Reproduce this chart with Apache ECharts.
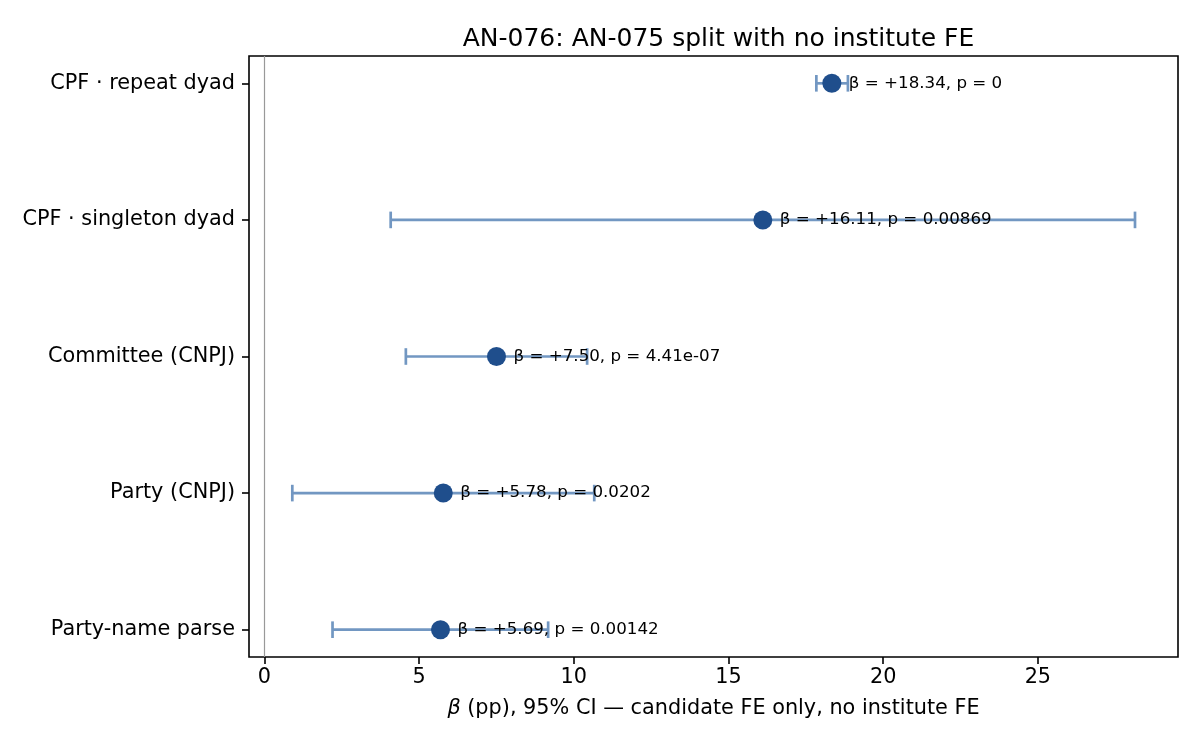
<!DOCTYPE html>
<html>
<head>
<meta charset="utf-8">
<script src="https://cdn.jsdelivr.net/npm/echarts@6/dist/echarts.min.js"></script>
<style>
  html, body { margin: 0; padding: 0; background: #fff; }
  #chart { width: 1200px; height: 750px; }
</style>
</head>
<body>
<div id="chart"></div>
<script>
// rows from top to bottom
const categories = [
  "CPF · repeat dyad",
  "CPF · singleton dyad",
  "Committee (CNPJ)",
  "Party (CNPJ)",
  "Party-name parse"
];
const betas = [18.34, 16.11, 7.50, 5.78, 5.69];
const ciLow = [17.84, 4.08, 4.57, 0.90, 2.20];
const ciHigh = [18.86, 28.14, 10.43, 10.66, 9.17];
const pLabels = ["0", "0.00869", "4.41e-07", "0.0202", "0.00142"];
const xTicks = [0, 5, 10, 15, 20, 25];

const FONT = "DejaVu Sans";
const chart = echarts.init(document.getElementById("chart"), null, { renderer: "canvas" });

const pointData = betas.map((b, i) => [b, i]);
const ciData = categories.map((c, i) => [ciLow[i], ciHigh[i], i]);

const option = {
  animation: false,
  backgroundColor: "#fff",
  title: {
    text: "AN-076: AN-075 split with no institute FE",
    left: 713.5,
    top: 22,
    textAlign: "center",
    textStyle: { fontFamily: FONT, fontSize: 25, fontWeight: "normal", color: "#000" }
  },
  grid: {
    left: 249, right: 22, top: 56, bottom: 93,
    show: true, borderColor: "#000", borderWidth: 1.6, backgroundColor: "transparent"
  },
  xAxis: {
    type: "value",
    min: -0.5,
    max: 29.53,
    splitLine: { show: false },
    axisLine: { show: false, onZero: false },
    axisTick: { show: true, length: 7, customValues: xTicks, lineStyle: { color: "#000", width: 1.6 } },
    axisLabel: {
      customValues: xTicks, margin: 10,
      fontFamily: FONT, fontSize: 20.8, color: "#000"
    },
    name: "{i|β} (pp), 95% CI — candidate FE only, no institute FE",
    nameLocation: "middle",
    nameGap: 41,
    nameTextStyle: {
      fontFamily: FONT, fontSize: 20.8, color: "#000",
      rich: { i: { fontFamily: FONT, fontSize: 20.8, fontStyle: "italic", color: "#000" } }
    }
  },
  yAxis: {
    type: "value",
    inverse: true,
    min: -0.2,
    max: 4.2,
    splitLine: { show: false },
    axisLine: { show: false, onZero: false },
    axisTick: { show: true, length: 7, customValues: [0, 1, 2, 3, 4], lineStyle: { color: "#000", width: 1.6 } },
    axisLabel: {
      customValues: [0, 1, 2, 3, 4], margin: 14,
      fontFamily: FONT, fontSize: 20.8, color: "#000",
      formatter: v => categories[Math.round(v)] || ""
    }
  },
  series: [
    {
      type: "custom",
      z: 2,
      data: ciData,
      encode: { x: [0, 1], y: 2 },
      renderItem: (params, api) => {
        const y = api.value(2);
        const p1 = api.coord([api.value(0), y]);
        const p2 = api.coord([api.value(1), y]);
        const cap = 8.3;
        const style = { stroke: "#7297c2", lineWidth: 2.7 };
        return {
          type: "group",
          children: [
            { type: "line", shape: { x1: p1[0], y1: p1[1], x2: p2[0], y2: p2[1] }, style },
            { type: "line", shape: { x1: p1[0], y1: p1[1] - cap, x2: p1[0], y2: p1[1] + cap }, style },
            { type: "line", shape: { x1: p2[0], y1: p2[1] - cap, x2: p2[0], y2: p2[1] + cap }, style }
          ]
        };
      }
    },
    {
      type: "scatter",
      z: 3,
      symbolSize: 19,
      itemStyle: { color: "#1f4e8c", opacity: 1 },
      data: pointData,
      label: {
        show: true,
        position: "right",
        distance: 7.5,
        fontFamily: FONT,
        fontSize: 16.7,
        color: "#000",
        formatter: p => "β = +" + betas[p.dataIndex].toFixed(2) + ", p = " + pLabels[p.dataIndex]
      },
      markLine: {
        silent: true,
        symbol: "none",
        label: { show: false },
        lineStyle: { color: "#999", width: 1.2, type: "solid" },
        data: [{ xAxis: 0 }]
      }
    }
  ]
};

chart.setOption(option);
</script>
</body>
</html>
